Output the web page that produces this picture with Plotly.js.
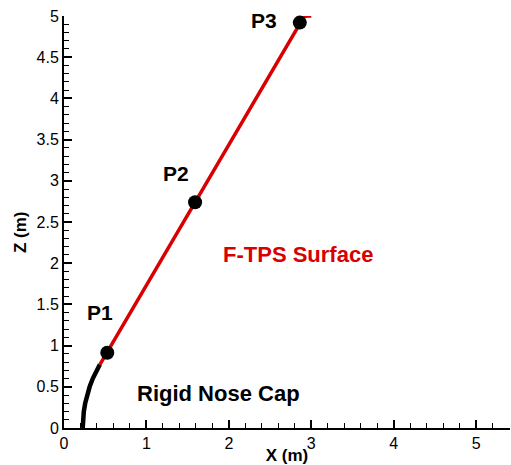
<!DOCTYPE html>
<html>
<head>
<meta charset="utf-8">
<script src="https://cdn.plot.ly/plotly-3.0.1.min.js"></script>
<style>html,body{margin:0;padding:0;background:#fff;}#chart{width:511px;height:465px;}</style>
</head>
<body>
<div id="chart"></div>
<script>
// Rigid nose cap contour (X, Z in m)
const noseX = [0.227, 0.230, 0.240, 0.257, 0.280, 0.311, 0.349, 0.397, 0.435];
const noseZ = [0.00, 0.10, 0.20, 0.30, 0.40, 0.50, 0.60, 0.70, 0.77];
// F-TPS surface contour
const ftpsX = [0.435, 2.86, 2.91, 2.95, 3.00];
const ftpsZ = [0.77, 4.92, 4.99, 5.00, 5.00];
// Probe points
const pointNames = ['P1', 'P2', 'P3'];
const pointX = [0.525, 1.59, 2.86];
const pointZ = [0.914, 2.74, 4.92];
// Label positions (data coords)
const labelX = [0.437, 1.353, 2.43];
const labelZ = [1.40, 3.09, 4.95];

const red = '#d80000';
const fam = 'Liberation Sans, Arial';
const traces = [
  {x: noseX, y: noseZ, mode: 'lines', line: {color: '#000', width: 4.5}, cliponaxis: false, hoverinfo: 'skip'},
  {x: ftpsX, y: ftpsZ, mode: 'lines', line: {color: red, width: 3.5}, cliponaxis: false, hoverinfo: 'skip'},
  {x: pointX, y: pointZ, mode: 'markers', marker: {color: '#000', size: 14}, cliponaxis: false, text: pointNames}
];

const annotations = pointNames.map((n, i) => ({
  x: labelX[i], y: labelZ[i], xref: 'x', yref: 'y', text: '<b>' + n + '</b>',
  showarrow: false, font: {family: fam, size: 21, color: '#000'}
}));
annotations.push({x: 2.84, y: 2.11, xref: 'x', yref: 'y', text: '<b>F-TPS Surface</b>', showarrow: false,
  font: {family: fam, size: 22, color: red}});
annotations.push({x: 1.87, y: 0.42, xref: 'x', yref: 'y', text: '<b>Rigid Nose Cap</b>', showarrow: false,
  font: {family: fam, size: 22, color: '#000'}});
// Z axis title placed as annotation to match the reference offset
annotations.push({x: -0.096, y: 0.476, xref: 'paper', yref: 'paper', text: '<b>Z (m)</b>', textangle: -90,
  showarrow: false, xanchor: 'center', yanchor: 'middle', font: {family: fam, size: 17, color: '#000'}});

const axisCommon = {
  showline: true, linecolor: '#000', linewidth: 2, mirror: false,
  ticks: 'inside', ticklen: 8, tickwidth: 2, tickcolor: '#000',
  showgrid: false, zeroline: false,
  tickfont: {family: fam, size: 16, color: '#000'}
};

const layout = {
  width: 511, height: 465,
  margin: {l: 64, r: 1, t: 16, b: 37, pad: 0},
  paper_bgcolor: '#fff', plot_bgcolor: '#fff',
  showlegend: false,
  xaxis: Object.assign({}, axisCommon, {
    range: [0, 5.41], dtick: 1, tick0: 0,
    minor: {dtick: 0.2, ticks: 'inside', ticklen: 5, tickwidth: 1, tickcolor: '#000', showgrid: false},
    title: {text: '<b>X (m)</b>', standoff: 3, font: {family: fam, size: 17, color: '#000'}}
  }),
  yaxis: Object.assign({}, axisCommon, {
    range: [0, 5], dtick: 0.5, tick0: 0,
    minor: {dtick: 0.1, ticks: 'inside', ticklen: 5, tickwidth: 1, tickcolor: '#000', showgrid: false}
  }),
  annotations: annotations
};

Plotly.newPlot('chart', traces, layout, {displayModeBar: false, staticPlot: true});
</script>
</body>
</html>
